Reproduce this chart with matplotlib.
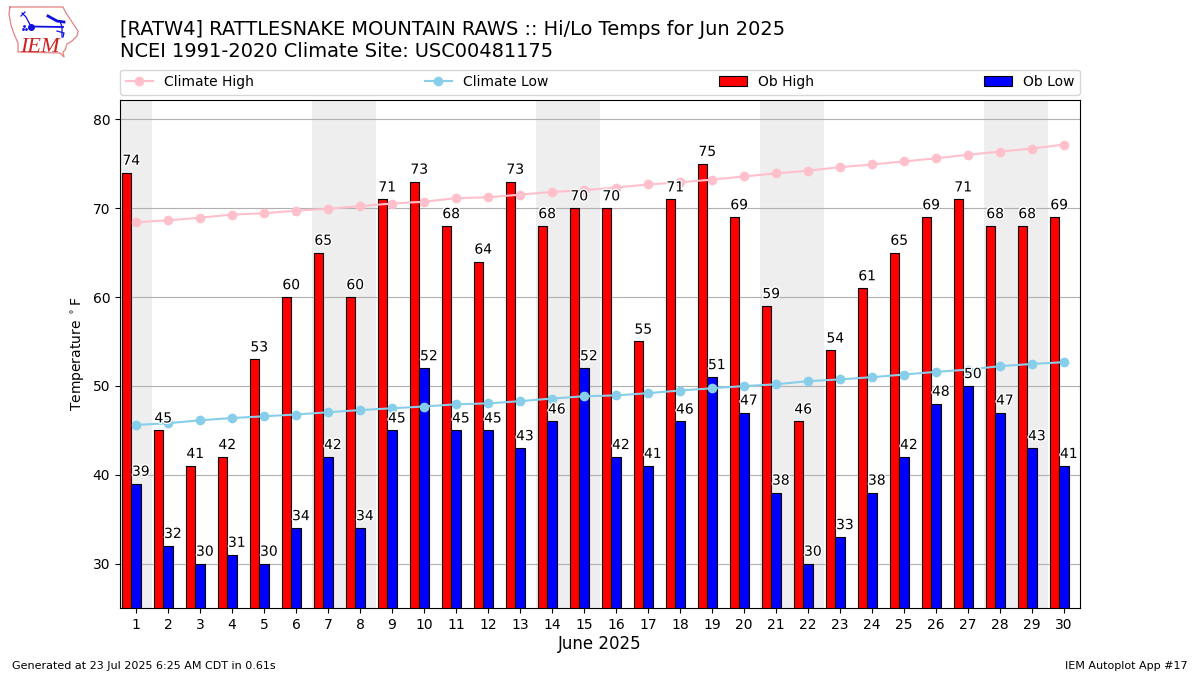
import matplotlib
matplotlib.use("Agg")
import matplotlib.pyplot as plt
import matplotlib.patheffects as pe
import numpy as np

days = list(range(1, 31))
weekend_days = [1, 7, 8, 14, 15, 21, 22, 28, 29]
ob_high = [74, 45, 41, 42, 53, 60, 65, 60, 71, 73, 68, 64, 73, 68, 70,
           70, 55, 71, 75, 69, 59, 46, 54, 61, 65, 69, 71, 68, 68, 69]
ob_low = [39, 32, 30, 31, 30, 34, 42, 34, 45, 52, 45, 45, 43, 46, 52,
          42, 41, 46, 51, 47, 38, 30, 33, 38, 42, 48, 50, 47, 43, 41]
climate_high = [68.43, 68.63, 68.93, 69.28, 69.43, 69.73, 69.93, 70.23, 70.53, 70.73,
                71.13, 71.23, 71.53, 71.83, 72.03, 72.33, 72.67, 72.92, 73.22, 73.57,
                73.92, 74.22, 74.62, 74.92, 75.27, 75.62, 76.02, 76.37, 76.72, 77.16]
climate_low = [45.6, 45.8, 46.13, 46.38, 46.58, 46.78, 47.03, 47.28, 47.48, 47.68,
               47.93, 48.03, 48.28, 48.58, 48.83, 48.93, 49.18, 49.48, 49.73, 49.98,
               50.18, 50.53, 50.73, 50.98, 51.28, 51.58, 51.83, 52.22, 52.47, 52.67]

W, H = 1200, 675
fig = plt.figure(figsize=(12, 6.75), dpi=100)
ax = fig.add_axes([120 / W, 1 - 608 / H, (1080 - 120) / W, (608 - 100) / H])

for d in weekend_days:
    ax.axvspan(d - 0.5, d + 0.5, color="#eeeeee", lw=0, zorder=0)
ax.grid(axis="y", color="#b0b0b0", lw=0.8, zorder=1)
ax.set_axisbelow(True)

x = np.array(days)
ax.bar(x - 0.3, ob_high, width=0.3, color="red", edgecolor="k", lw=0.8,
       zorder=2, label="Ob High")
ax.bar(x, ob_low, width=0.3, color="blue", edgecolor="k", lw=0.8,
       zorder=2, label="Ob Low")
ax.plot(x, climate_high, color="pink", marker="o", lw=1.5, ms=6, zorder=3,
        label="Climate High")
ax.plot(x, climate_low, color="skyblue", marker="o", lw=1.5, ms=6, zorder=3,
        label="Climate Low")

stroke = [pe.withStroke(linewidth=2, foreground="white")]
for d, hi, lo in zip(days, ob_high, ob_low):
    ax.text(d - 0.15, hi + 0.55, str(hi), ha="center", va="bottom", fontsize=10,
            color="k", zorder=4, path_effects=stroke)
    ax.text(d + 0.15, lo + 0.55, str(lo), ha="center", va="bottom", fontsize=10,
            color="k", zorder=4, path_effects=stroke)

ax.set_xlim(0.5, 30.5)
ax.set_ylim(25, 82.18)
ax.set_xticks(days)
ax.set_yticks([30, 40, 50, 60, 70, 80])
ax.set_ylabel(r"Temperature $^\circ$F")
ax.set_xlabel("June 2025", fontsize=12, labelpad=2.5)

h, l = ax.get_legend_handles_labels()
order = [l.index(n) for n in ["Climate High", "Climate Low", "Ob High", "Ob Low"]]
ax.legend([h[i] for i in order], [l[i] for i in order], ncol=4, mode="expand",
          loc="lower left", bbox_to_anchor=(0, 1.0105, 1, 0.102), borderaxespad=0)

fig.text(120 / W, 1 - 61 / H, "[RATW4] RATTLESNAKE MOUNTAIN RAWS :: Hi/Lo Temps for Jun 2025\n"
         "NCEI 1991-2020 Climate Site: USC00481175", fontsize=13.99, ha="left", va="bottom")
fig.text(12 / W, 1 - 671 / H, "Generated at 23 Jul 2025 6:25 AM CDT in 0.61s",
         fontsize=8, ha="left", va="bottom")
fig.text(1188 / W, 1 - 671 / H, "IEM Autoplot App #17", fontsize=8, ha="right", va="bottom")

# IEM logo, drawn in pixel coordinates of its own small axes
lg = fig.add_axes([0, 1 - 65 / H, 90 / W, 65 / H])
lg.set_xlim(0, 90)
lg.set_ylim(65, 0)
lg.axis("off")
ox = [10, 63, 66, 70, 74, 78, 77, 72, 67, 65, 63, 64, 60, 18, 18, 14, 11, 9, 10]
oy = [7, 7, 13, 19, 25, 31, 36, 41, 44, 50, 52, 57, 53, 52, 43, 34, 25, 14, 7]
lg.plot(ox, oy, color="#e58080", lw=0.9)
lg.plot([31, 63], [26.5, 27], color="#1010e0", lw=1.3)
lg.plot([22, 26, 31], [13, 17, 26.5], color="#1010e0", lw=0.9)
lg.plot([21, 25], [16, 12], color="#1010e0", lw=0.9)
lg.plot([31], [26.5], "o", color="#1010e0", ms=4)
lg.plot([48, 57, 64], [16, 21, 22], color="#1010e0", lw=2)
lg.plot([60, 62, 62], [21, 27, 37], color="#1010e0", lw=0.9)
lg.plot([57, 64, 63], [31, 33, 37], color="#1010e0", lw=0.9)
lg.plot([23, 26, 24], [29, 29, 26], ".", color="#1010e0", ms=2)
lg.text(20, 52, "IEM", family="Liberation Serif", style="italic", color="#d02020",
        fontsize=16, ha="left", va="baseline")

fig.savefig("out.png", dpi=100)
